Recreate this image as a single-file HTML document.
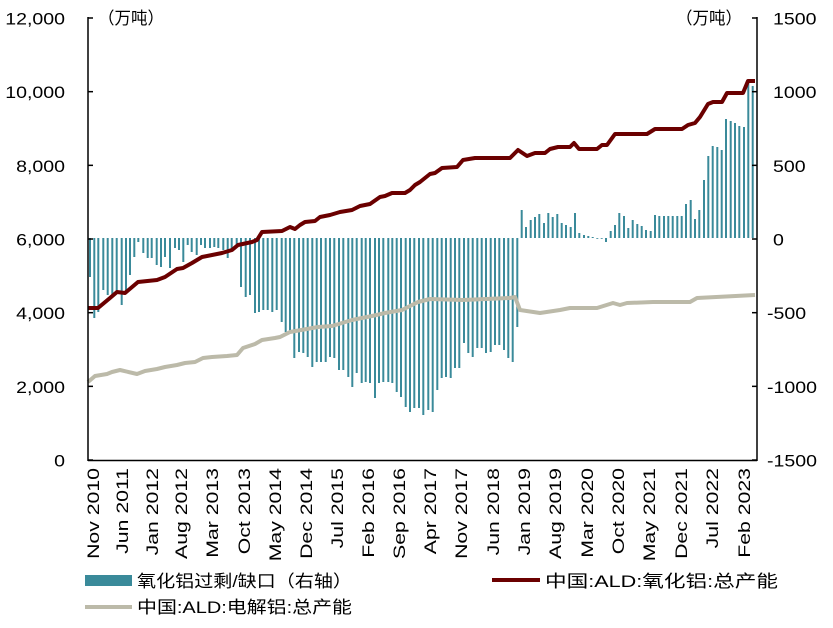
<!DOCTYPE html><html><head><meta charset="utf-8"><style>
body{margin:0;background:#fff;}
svg{display:block;font-family:"Liberation Sans","Noto Sans CJK SC",sans-serif;}
</style></head><body>
<svg id="s" width="833" height="628" viewBox="0 0 833 628" xmlns="http://www.w3.org/2000/svg">
<g id="bars" fill="#3a8a9a"></g>
<polyline id="grey" fill="none" stroke="#bcbaa9" stroke-width="4" stroke-linejoin="round"/>
<polyline id="red" fill="none" stroke="#6b0000" stroke-width="4" stroke-linejoin="round"/>
<g stroke="#000" stroke-width="1.5">
<line x1="88" y1="17" x2="88" y2="461"/>
<line x1="757" y1="17" x2="757" y2="461"/>
<line x1="88" y1="460.5" x2="757" y2="460.5"/>
</g>
<g id="ticks" stroke="#000" stroke-width="1.5"></g>
<g id="yl" font-size="17" fill="#000"></g>
<text x="98" y="24" font-size="17" textLength="66" lengthAdjust="spacingAndGlyphs">（万吨）</text>
<text x="676" y="24" font-size="17" textLength="66" lengthAdjust="spacingAndGlyphs">（万吨）</text>
<g id="xl" font-size="17" text-anchor="end"></g>
<rect x="85" y="575" width="47" height="11" fill="#3a8a9a"/>
<text x="137" y="587" font-size="17" textLength="215" lengthAdjust="spacingAndGlyphs">氧化铝过剩/缺口（右轴）</text>
<line x1="492" y1="580" x2="540" y2="580" stroke="#6b0000" stroke-width="4"/>
<text x="545" y="587" font-size="17" textLength="233" lengthAdjust="spacingAndGlyphs">中国:ALD:氧化铝:总产能</text>
<line x1="85" y1="607" x2="132" y2="607" stroke="#bcbaa9" stroke-width="4"/>
<text x="137" y="613" font-size="17" textLength="215" lengthAdjust="spacingAndGlyphs">中国:ALD:电解铝:总产能</text>
</svg>
<script>
var NS="http://www.w3.org/2000/svg";
function el(t,a,p){var e=document.createElementNS(NS,t);for(var k in a)e.setAttribute(k,a[k]);p.appendChild(e);return e;}
var z1=[[15,277],[28,318],[40,312],[55,290],[68,295],[82,297],[95,293],[110,305],[123,292],[135,275],[148,257],[160,242],[175,253],[188,258],[200,258],[215,265],[228,267],[240,257],[255,268],[270,248],[282,250],[295,262],[308,245],[320,252],[335,255],[348,245],[360,248],[375,248],[388,247],[400,248],[415,250],[428,258],[440,250],[455,247],[468,287],[482,297],[495,295],[510,313],[522,312],[535,310],[548,310],[562,312],[575,310],[590,322],[602,332],[615,333],[628,358],[642,352],[655,353],[668,357],[682,367],[695,362],[708,362],[722,362],[735,357],[748,358],[762,370],[775,370],[790,377],[802,387],[815,373],[830,383],[842,382],[855,383],[870,398],[882,383],[895,382],[910,382],[922,383],[935,392],[948,397],[962,407],[975,412],[988,408],[1002,408],[1015,415]];
var z2=[[25,410],[38,412],[52,390],[65,378],[78,377],[92,378],[105,368],[118,368],[132,343],[145,353],[158,357],[172,348],[185,348],[198,353],[212,352],[225,345],[238,345],[252,350],[265,358],[278,362],[292,327],[305,210],[318,227],[332,220],[345,217],[358,214],[372,223],[385,213],[398,217],[412,214],[425,223],[438,225],[452,227],[465,213],[478,233],[492,235],[505,236],[518,237],[532,238],[545,238],[558,242],[572,231],[585,225],[598,213],[612,216],[625,228],[638,220],[652,224],[665,226],[678,230],[692,231],[705,215],[718,216],[732,216],[745,216],[758,216],[772,216],[785,216],[798,204],[812,200],[825,219],[838,210],[852,180],[865,156],[878,146],[892,147],[905,150],[918,119],[932,121],[945,123],[958,126],[972,127],[985,83],[998,86]];
var g=document.getElementById("bars");var Z=238;
function bar(x,t){var y=Math.min(t,Z),h=Math.max(Math.abs(t-Z),0.8);el("rect",{x:(x-1).toFixed(1),y:y,width:2,height:h},g);}
z1.forEach(function(p){bar(85+p[0]/3,p[1]);});
z2.forEach(function(p){bar(420+p[0]/3,p[1]);});
var red=[[88,308],[98,308],[110,298],[117,292],[125,293],[138,282],[157,280],[165,277],[177,269],[183,268],[192,263],[202,257],[222,253],[232,250],[238,245],[252,242],[257,240],[262,232],[282,231],[290,227],[295,229],[300,225],[305,222],[315,221],[320,217],[330,215],[340,212],[352,210],[360,206],[370,204],[380,197],[385,196],[392,193],[405,193],[410,190],[415,185],[420,182],[430,174],[435,173],[442,168],[457,167],[463,160],[475,158],[510,158],[518,150],[527,156],[535,153],[545,153],[550,149],[558,147],[570,147],[574,143],[579,149],[597,149],[602,145],[607,145],[615,134],[647,134],[655,129],[682,129],[688,125],[695,123],[700,117],[708,104],[713,102],[722,102],[727,93],[743,93],[748,81],[755,81]];
var grey=[[88,382],[95,376],[107,374],[112,372],[120,370],[137,374],[145,371],[157,369],[165,367],[177,365],[185,363],[195,362],[203,358],[212,357],[227,356],[237,355],[243,348],[255,344],[262,340],[275,338],[280,337],[290,332],[318,327],[332,326],[352,320],[372,316],[385,313],[402,310],[418,302],[430,299],[463,300],[510,298],[515,297],[520,310],[540,313],[560,310],[570,308],[597,308],[613,303],[620,305],[627,303],[653,302],[690,302],[697,298],[755,295]];
document.getElementById("red").setAttribute("points",red.map(function(p){return p.join(",")}).join(" "));
document.getElementById("grey").setAttribute("points",grey.map(function(p){return p.join(",")}).join(" "));
var tk=document.getElementById("ticks"),yl=document.getElementById("yl");
var L=["12,000","10,000","8,000","6,000","4,000","2,000","0"],R=["1500","1000","500","0","-500","-1000","-1500"];
for(var i=0;i<7;i++){var y=18+i*73.67;
el("line",{x1:88,y1:y,x2:93,y2:y},tk);el("line",{x1:752,y1:y,x2:757,y2:y},tk);
var t=el("text",{transform:"translate(65,"+(y+6.5)+") scale(1.15,1)","text-anchor":"end"},yl);t.textContent=L[i];
var t2=el("text",{transform:"translate("+(R[i].charAt(0)=="-"?767:773)+","+(y+6.5)+") scale(1.15,1)"},yl);t2.textContent=R[i];}
var labs=[["Nov 2010",93],["Jun 2011",122],["Jan 2012",152],["Aug 2012",181],["Mar 2013",212],["Oct 2013",244],["May 2014",275],["Dec 2014",306],["Jul 2015",337],["Feb 2016",368],["Sep 2016",399],["Apr 2017",430],["Nov 2017",461],["Jun 2018",493],["Jan 2019",524],["Aug 2019",555],["Mar 2020",587],["Oct 2020",618],["May 2021",649],["Dec 2021",681],["Jul 2022",712],["Feb 2023",744]];
var xl=document.getElementById("xl");
labs.forEach(function(l){var t=el("text",{transform:"translate("+(l[1]+6)+",468) rotate(-90) scale(1.25,1)"},xl);t.textContent=l[0];});
</script>
</body></html>
